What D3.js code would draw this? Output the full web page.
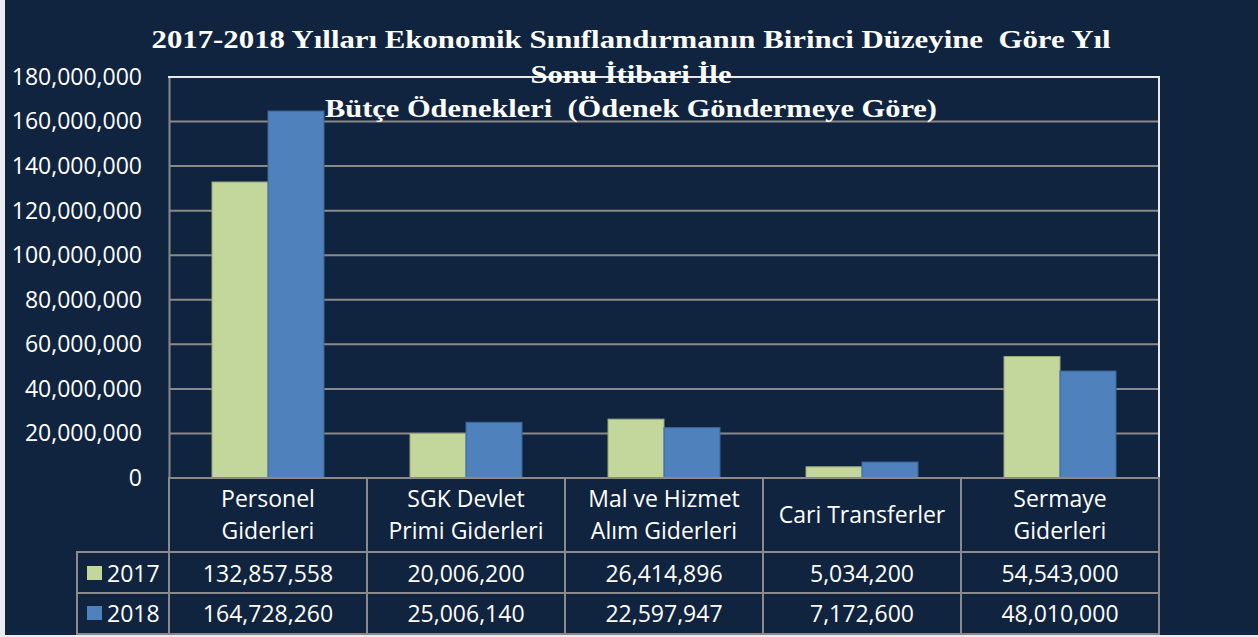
<!DOCTYPE html>
<html>
<head>
<meta charset="utf-8">
<script src="https://cdn.jsdelivr.net/npm/d3@7"></script>
<style>
  html, body { margin: 0; padding: 0; background: #e9edf1; }
  svg { display: block; }
</style>
</head>
<body>
<svg id="chart" width="1258" height="637"></svg>
<script>
// data
var categories = [
  ["Personel", "Giderleri"],
  ["SGK Devlet", "Primi Giderleri"],
  ["Mal ve Hizmet", "Alım Giderleri"],
  ["Cari Transferler"],
  ["Sermaye", "Giderleri"]
];
var seriesNames = ["2017", "2018"];
var values2017 = [132857558, 20006200, 26414896, 5034200, 54543000];
var values2018 = [164728260, 25006140, 22597947, 7172600, 48010000];
var yTicks = [0, 20000000, 40000000, 60000000, 80000000, 100000000, 120000000, 140000000, 160000000, 180000000];
var titleLines = [
  "2017-2018 Yılları Ekonomik Sınıflandırmanın Birinci Düzeyine  Göre Yıl",
  "Sonu İtibari İle",
  "Bütçe Ödenekleri  (Ödenek Göndermeye Göre)"
];

var colors = { "2017": "#c3d69b", "2018": "#4f81bd" };
var strokes = { "2017": "#97a97a", "2018": "#3b679a" };
var bg = "#11243f";
var gridColor = "#8a8a8a";
var font = "'Open Sans', 'Noto Sans', sans-serif";

function drawChart() {
  var svg = d3.select("#chart");

  svg.append("rect")
    .attr("x", 5).attr("y", 0)
    .attr("width", 1253).attr("height", 635)
    .attr("fill", bg);

  var plotLeft = 169, plotRight = 1159, plotTop = 77, plotBottom = 478;
  var rowH = [552, 593, 634];
  var legendLeft = 77;

  var x = d3.scaleBand()
    .domain(d3.range(categories.length))
    .range([plotLeft, plotRight]);

  var xs = d3.scaleBand()
    .domain(seriesNames)
    .range([0, x.bandwidth()])
    .paddingOuter(0.768);

  var y = d3.scaleLinear()
    .domain([0, 180000000])
    .range([plotBottom, plotTop]);

  var fmt = d3.format(",");

  // gridlines
  svg.append("g").selectAll("line")
    .data(yTicks.slice(1, -1))
    .join("line")
    .attr("x1", plotLeft).attr("x2", plotRight)
    .attr("y1", function (d) { return y(d); })
    .attr("y2", function (d) { return y(d); })
    .attr("stroke", gridColor)
    .attr("stroke-width", 2);

  // y axis
  var yAxis = svg.append("g")
    .attr("transform", "translate(" + plotLeft + ",0)")
    .call(d3.axisLeft(y).tickValues(yTicks).tickSize(0).tickPadding(27).tickFormat(fmt));
  yAxis.select(".domain").attr("stroke", gridColor).attr("stroke-width", 2);
  yAxis.selectAll("text")
    .attr("fill", "#ffffff")
    .style("font-family", font)
    .style("font-size", "23px");

  // plot border top & right
  svg.append("line").attr("x1", plotLeft - 1).attr("x2", plotRight + 1).attr("y1", plotTop).attr("y2", plotTop)
    .attr("stroke", "#e8e8e8").attr("stroke-width", 2);
  svg.append("line").attr("x1", plotRight).attr("x2", plotRight).attr("y1", plotTop).attr("y2", plotBottom)
    .attr("stroke", "#e8e8e8").attr("stroke-width", 2);

  // bars
  var rows = categories.map(function (c, i) {
    return { i: i, vals: [{ s: "2017", v: values2017[i] }, { s: "2018", v: values2018[i] }] };
  });

  svg.append("g").selectAll("g")
    .data(rows)
    .join("g")
    .attr("transform", function (d) { return "translate(" + x(d.i) + ",0)"; })
    .selectAll("rect")
    .data(function (d) { return d.vals; })
    .join("rect")
    .attr("x", function (d) { return xs(d.s); })
    .attr("width", xs.bandwidth())
    .attr("y", function (d) { return y(d.v); })
    .attr("height", function (d) { return y(0) - y(d.v); })
    .attr("fill", function (d) { return colors[d.s]; })
    .attr("stroke", function (d) { return strokes[d.s]; })
    .attr("stroke-width", 1);

  // data table
  var table = svg.append("g").attr("stroke", gridColor).attr("stroke-width", 2);
  table.append("line").attr("x1", plotLeft - 1).attr("x2", plotRight + 1).attr("y1", plotBottom).attr("y2", plotBottom);
  rowH.forEach(function (h) {
    table.append("line").attr("x1", legendLeft - 1).attr("x2", plotRight + 1).attr("y1", h).attr("y2", h);
  });
  d3.range(categories.length + 1).forEach(function (k) {
    var xx = plotLeft + k * x.bandwidth();
    table.append("line").attr("x1", xx).attr("x2", xx).attr("y1", plotBottom).attr("y2", rowH[2] + 1);
  });
  table.append("line").attr("x1", legendLeft).attr("x2", legendLeft).attr("y1", rowH[0]).attr("y2", rowH[2] + 1);

  // category labels
  var catG = svg.append("g")
    .style("font-family", font)
    .style("font-size", "23px")
    .attr("fill", "#ffffff")
    .attr("text-anchor", "middle");

  categories.forEach(function (lines, i) {
    var cx = x(i) + x.bandwidth() / 2;
    var t = catG.append("text");
    if (lines.length === 1) {
      t.append("tspan").attr("x", cx).attr("y", 523).text(lines[0]);
    } else {
      t.append("tspan").attr("x", cx).attr("y", 507).text(lines[0]);
      t.append("tspan").attr("x", cx).attr("y", 539).text(lines[1]);
    }
  });

  // value rows + legend keys
  var series = [values2017, values2018];
  var baselines = [582, 622];
  series.forEach(function (vals, r) {
    catG.append("g").selectAll("text")
      .data(vals)
      .join("text")
      .attr("x", function (d, i) { return x(i) + x.bandwidth() / 2; })
      .attr("y", baselines[r])
      .text(function (d) { return fmt(d); });

    svg.append("rect")
      .attr("x", 87).attr("y", baselines[r] - 16)
      .attr("width", 15).attr("height", 14)
      .attr("fill", colors[seriesNames[r]]);
    svg.append("text")
      .attr("x", 107).attr("y", baselines[r])
      .attr("fill", "#ffffff")
      .style("font-family", font)
      .style("font-size", "23px")
      .text(seriesNames[r]);
  });

  // title
  var titleLen = [959, 201, 612];
  var titleY = [48, 83, 117];
  svg.append("g").selectAll("text")
    .data(titleLines)
    .join("text")
    .attr("x", 631)
    .attr("y", function (d, i) { return titleY[i]; })
    .attr("text-anchor", "middle")
    .attr("fill", "#ffffff")
    .attr("textLength", function (d, i) { return titleLen[i]; })
    .attr("lengthAdjust", "spacingAndGlyphs")
    .style("white-space", "pre")
    .style("font-family", "'Liberation Serif', 'Times New Roman', serif")
    .style("font-weight", "bold")
    .style("font-size", "25px")
    .text(function (d) { return d; });
}

drawChart();
</script>
</body>
</html>
